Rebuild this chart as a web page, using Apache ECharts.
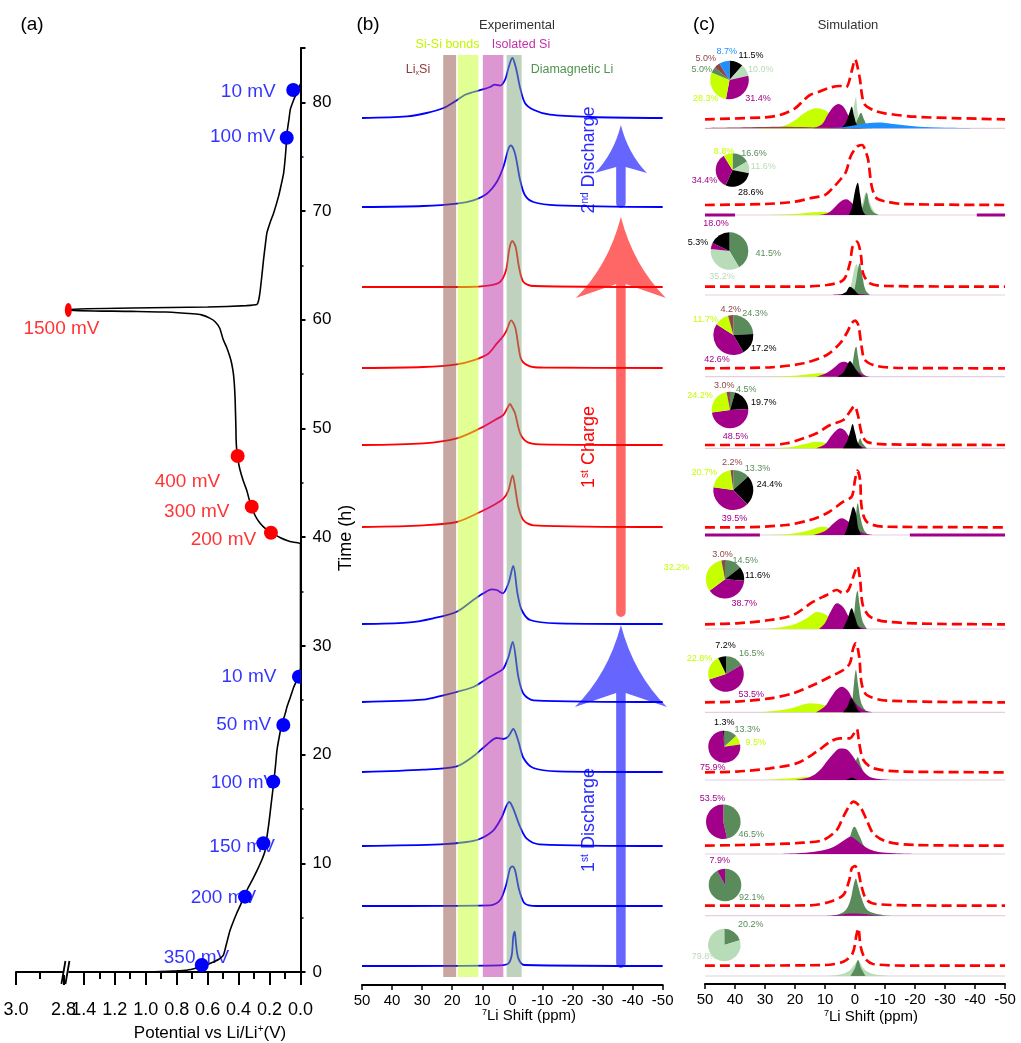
<!DOCTYPE html>
<html>
<head>
<meta charset="utf-8">
<title>Operando 7Li NMR of a Si anode</title>
<script src="https://cdn.jsdelivr.net/npm/echarts@6.0.0/dist/echarts.min.js"></script>
<style>
html, body { margin: 0; padding: 0; background: #ffffff; }
#chart { width: 1021px; height: 1043px; }
</style>
</head>
<body>
<div id="chart"></div>
<script>
// ---------- (a) galvanostatic profile: [potential (V), time (h)] ----------
const firstDischarge = [
  [2.8, 0.0], [1.4, 0.0], [1.0, 0.02], [0.91, 0.05], [0.80, 0.10], [0.74, 0.15], [0.69, 0.30],
  [0.65, 0.45], [0.60, 0.70], [0.567, 0.90], [0.53, 1.15], [0.50, 1.50], [0.485, 2.2],
  [0.478, 2.6], [0.456, 3.8], [0.435, 4.6], [0.412, 5.4], [0.38, 6.4], [0.347, 7.5],
  [0.31, 8.5], [0.282, 9.3], [0.25, 10.3], [0.228, 11.2], [0.217, 12.4], [0.205, 13.6],
  [0.195, 14.8], [0.185, 16.0], [0.174, 17.3], [0.162, 18.9], [0.152, 20.4], [0.135, 21.8],
  [0.119, 22.9], [0.10, 23.7], [0.087, 24.4], [0.065, 25.3], [0.044, 26.2], [0.025, 26.8],
  [0.011, 27.3], [0.0, 28.0]
];
const restAtCutoff = [[0.0, 39.4]];
const firstCharge = [
  [0.011, 39.47], [0.05, 39.55], [0.087, 39.7], [0.13, 39.95], [0.174, 40.3], [0.21, 40.6],
  [0.239, 40.95], [0.262, 41.3], [0.282, 41.7], [0.30, 42.2], [0.315, 42.8], [0.332, 43.5],
  [0.347, 44.3], [0.37, 45.2], [0.391, 46.2], [0.405, 47.2], [0.412, 48.0], [0.416, 49.0],
  [0.417, 49.9], [0.42, 51.5], [0.423, 52.9], [0.428, 54.2], [0.434, 55.1], [0.445, 56.0],
  [0.456, 56.6], [0.478, 57.5], [0.50, 58.2], [0.521, 59.2], [0.55, 59.8], [0.586, 60.15],
  [0.64, 60.45], [0.695, 60.55], [0.868, 60.71], [1.086, 60.77], [1.5, 60.86]
];
const secondDischarge = [
  [1.5, 60.98], [1.086, 61.08], [0.6, 61.17], [0.35, 61.3], [0.282, 61.4], [0.272, 61.7],
  [0.262, 62.5], [0.25, 64.0], [0.239, 65.5], [0.228, 66.8], [0.217, 68.0], [0.195, 69.0],
  [0.174, 69.8], [0.141, 71.4], [0.125, 72.4], [0.109, 73.5], [0.098, 75.0], [0.09, 76.5],
  [0.087, 77.2], [0.075, 78.4], [0.065, 79.4], [0.045, 80.2], [0.033, 80.6], [0.015, 81.2],
  [0.0, 81.7]
];
// NMR acquisition points: [potential (V), time (h), label]
const dischargeMarks = [[0.638, 0.64, '350 mV'], [0.3585, 6.93, '200 mV'], [0.240, 11.84, '150 mV'],
  [0.176, 17.51, '100 mV'], [0.111, 22.72, '50 mV'], [0.010, 27.17, '10 mV']];
const chargeMarks = [[0.191, 40.41, '200 mV'], [0.315, 42.81, '300 mV'], [0.406, 47.47, '400 mV'],
  [1.5, 60.9, '1500 mV']];
const secondDischargeMarks = [[0.089, 76.75, '100 mV'], [0.047, 81.14, '10 mV']];
const potentialTicks = [3.0, 2.8, 1.4, 1.2, 1.0, 0.8, 0.6, 0.4, 0.2, 0.0];
const potentialMinorTicks = [2.9, 1.3, 1.1, 0.9, 0.7, 0.5, 0.3, 0.1];

// ---------- (b) experimental 7Li spectra: [shift (ppm), intensity], top to bottom ----------
const expSpectra = [
  [[50,0],[35,0.16],[28.5,0.5],[22.9,1.0],[19.1,1.66],[15.7,2.33],[13,2.6],[10.2,2.83],[7.4,3.1],[5.8,3.33],[4.1,3.23],[2.4,3.83],[1.3,5.0],[0,6.0],[-1.2,5.0],[-2.6,3.0],[-4.2,1.5],[-7,0.83],[-12.5,0.33],[-25.8,0.1],[-50,0]],
  [[50,0],[29.6,0.1],[18.5,0.33],[13,0.67],[8.5,1.33],[5.2,2.5],[3,4.0],[1.3,5.83],[0.5,6.17],[-0.9,5.33],[-2.6,2.67],[-4.2,1.17],[-7,0.5],[-14.8,0.17],[-50,0]],
  [[50,0],[15,0],[7.4,0.17],[4.1,0.5],[2.1,1.67],[1,3.83],[0,4.6],[-1.1,4.0],[-2.2,2.0],[-3.7,0.5],[-7,0.1],[-50,0]],
  [[50,0],[29.6,0.1],[18.5,0.37],[13,0.77],[8,1.43],[5.2,2.43],[3,3.2],[1.9,3.77],[0.4,4.77],[-1,4.0],[-2,2.2],[-3.1,0.77],[-5.9,0.17],[-10,0.05],[-50,0]],
  [[50,0],[29.6,0.17],[18.5,0.67],[10.7,1.67],[5.8,2.5],[3,3.0],[1.7,3.67],[0.8,4.1],[-0.1,3.67],[-0.9,3.17],[-2.6,1.17],[-4.8,0.33],[-9,0.07],[-50,0]],
  [[50,0],[29.6,0.17],[18.5,0.5],[10.7,1.5],[6.3,2.17],[3,2.83],[1.3,3.67],[-0.1,5.17],[-0.9,4.0],[-2,2.0],[-3.7,0.67],[-7,0.17],[-50,0]],
  [[50,0],[35.1,0.13],[26.3,0.57],[18.5,1.23],[13,2.4],[9.6,3.07],[6.9,3.47],[5.2,3.4],[3.2,3.07],[1.3,4.07],[-0.3,5.8],[-1.7,3.07],[-3.1,1.4],[-5.9,0.4],[-15,0.07],[-50,0]],
  [[50,0],[29.6,0.23],[22.9,0.67],[18.5,1.0],[13,1.5],[8.5,2.33],[5.2,2.9],[3,3.33],[1.3,4.5],[-0.1,6.0],[-2,2.5],[-3.7,0.83],[-7,0.17],[-50,0]],
  [[50,0],[29.6,0.23],[18.5,0.57],[13,1.57],[8.5,2.73],[5.2,3.4],[3,3.3],[1.3,3.57],[-0.3,4.3],[-2,3.07],[-3.7,1.4],[-7,0.4],[-15,0.07],[-50,0]],
  [[50,0],[24,0.17],[15.2,0.4],[10.7,0.73],[6.3,1.57],[3.5,2.9],[1.9,4.07],[1,4.4],[-0.3,3.73],[-2.6,1.9],[-4.8,0.73],[-9,0.17],[-50,0]],
  [[50,0],[7.4,0.07],[4.1,0.57],[2.1,2.07],[0.8,3.73],[0,3.97],[-0.9,3.57],[-2.3,1.57],[-4.2,0.23],[-8,0],[-50,0]],
  [[50,0],[4,0.07],[1.3,0.27],[0.2,1.1],[-0.3,2.93],[-0.8,3.43],[-1.2,2.27],[-2,0.77],[-4,0.1],[-50,0]]
];
const expOffsets = [86.7, 77.8, 69.8, 61.7, 54.0, 45.8, 36.1, 28.3, 21.3, 13.9, 7.9, 1.9];
const expStage = ['discharge2', 'discharge2', 'charge', 'charge', 'charge', 'charge',
  'discharge1', 'discharge1', 'discharge1', 'discharge1', 'discharge1', 'discharge1'];
// assignment windows (ppm): LixSi, Si-Si bonds, isolated Si, diamagnetic Li
const bandSpans = [[23.0, 18.7], [18.2, 11.3], [9.8, 3.0], [1.9, -3.1]];
// arrows: [shift (ppm), tail offset, tip offset]
const arrowSpans = [[-36.1, 1.7, 36.0], [-36.1, 36.8, 76.8], [-36.1, 77.7, 86.0]];

// ---------- (c) simulated lineshapes: one entry per spectrum, null when absent ----------
const simTotal = [
  [[50,0],[30,0.2],[25,0.43],[20,1.1],[17,1.93],[15,2.43],[12,2.76],[8,3.2],[5,3.33],[3,3.2],[1,4.93],[0,6.0],[-1.5,4.26],[-3,1.6],[-6,0.93],[-10,0.6],[-20,0.26],[-35,0.1],[-50,0]],
  [[50,0],[30,0.1],[20,0.33],[15,0.67],[10,1.0],[7,1.83],[5,2.5],[3,3.33],[1.5,4.83],[0,5.6],[-1,5.9],[-2.4,6.0],[-3.5,5.4],[-4.4,4.5],[-5.6,1.83],[-7.2,0.67],[-10.6,0.33],[-16,0.1],[-50,0]],
  [[50,0],[20,0],[9.4,0.17],[3.9,0.67],[1.7,2.34],[0.8,4.0],[-0.6,4.5],[-1.9,3.34],[-2.7,1.34],[-5,0.33],[-10.6,0.07],[-50,0]],
  [[50,0],[28.3,0.1],[17.2,0.5],[9.4,1.33],[5,2.5],[2.8,3.5],[1.1,4.5],[0,4.76],[-1.1,4.33],[-2.2,2.16],[-3.3,0.83],[-7.2,0.23],[-16,0.03],[-50,0]],
  [[50,0],[28.3,0],[22.8,0.17],[17.2,0.67],[12.8,1.17],[8.3,2.0],[3.9,2.5],[1.7,3.33],[0.2,3.9],[-1.1,2.83],[-2.2,1.17],[-3.9,0.33],[-10,0.07],[-50,0]],
  [[50,0],[39.4,0],[22.8,0.23],[15,0.73],[9.4,1.4],[3.9,2.56],[1.1,3.06],[0,4.73],[-0.8,5.66],[-1.7,4.73],[-2.2,2.06],[-3.9,0.56],[-9.4,0.06],[-50,0]],
  [[50,0],[39.4,0.1],[28.3,0.43],[20.6,0.93],[13.9,2.26],[9.4,2.93],[6.1,3.43],[3.9,3.1],[2.2,3.43],[0,5.26],[-0.8,5.83],[-1.7,4.43],[-2.6,1.93],[-5,0.76],[-10.6,0.26],[-30,0.03],[-50,0]],
  [[50,0],[39.4,0.07],[28.3,0.4],[20.6,0.9],[13.9,1.73],[8.3,2.56],[3.9,3.23],[1.7,3.9],[0.6,5.4],[-0.3,5.9],[-1.4,4.56],[-2.2,1.9],[-3.9,0.73],[-10.6,0.17],[-50,0]],
  [[50,0],[39.4,0.07],[28.3,0.4],[19.4,0.9],[12.8,2.06],[8.3,3.06],[5,3.4],[1.7,3.4],[0.3,3.9],[-0.6,4.33],[-1.4,2.9],[-2.8,1.23],[-6.1,0.4],[-16,0.07],[-50,0]],
  [[50,0],[28.3,0.14],[17.2,0.3],[10.6,0.57],[6.1,1.57],[3.9,2.9],[1.7,4.07],[0.6,4.4],[-1.7,3.9],[-3.9,2.57],[-6.1,1.23],[-10.6,0.4],[-20,0.07],[-50,0]],
  [[50,0],[15,0.03],[8.3,0.4],[3.9,1.07],[1.9,2.57],[1.1,3.73],[0,3.97],[-1.1,3.4],[-2.2,1.9],[-3.9,0.57],[-7,0.17],[-20,0.03],[-50,0]],
  [[50,0],[10,0.07],[3.9,0.4],[0.8,1.24],[-0.6,3.24],[-1.1,3.74],[-1.9,1.9],[-3.3,0.74],[-6,0.17],[-20,0],[-50,0]]
];
const simLightGreen = [
  [[2,0],[1,0.6],[0.2,2.5],[-0.3,3.1],[-0.8,1.8],[-1.5,0.5],[-3,0]],
  [[-1,0],[-2.5,1.2],[-3.7,2.3],[-5,1.2],[-6.5,0.3],[-8,0]],
  [[3,0],[1.5,0.8],[0.3,2.5],[-0.5,3.1],[-1.5,2.0],[-3,0.5],[-5,0]],
  null, null, null, null, null, null, null, null,
  [[10,0],[5,0.15],[2,0.5],[0,1.2],[-1.1,1.5],[-3,0.7],[-6,0.2],[-12,0]]
];
const simDarkGreen = [
  [[1,0],[0,0.3],[-1,1.0],[-2,1.56],[-3,0.9],[-4,0.3],[-6,0]],
  [[-1.5,0],[-2.8,1.0],[-3.9,2.2],[-4.8,1.0],[-6,0.3],[-8,0]],
  [[1,0],[0,0.8],[-1,2.6],[-1.5,3.17],[-2.5,1.8],[-3.5,0.5],[-5,0]],
  [[2,0],[1,1.0],[0,2.8],[-0.4,3.0],[-1,2.0],[-2,0.6],[-3.5,0.1],[-5,0]],
  [[0,0],[-1,0.5],[-1.7,1.0],[-2.5,0.5],[-4,0]],
  [[1,0],[0,1.0],[-0.9,3.17],[-1.8,1.8],[-3,0.5],[-4.5,0]],
  [[1.5,0],[0.5,1.0],[-0.2,3.0],[-0.8,3.83],[-1.5,2.5],[-2.5,0.8],[-4,0]],
  [[2,0],[1,1.0],[0.3,3.0],[-0.3,4.23],[-1,2.8],[-2,1.0],[-3.5,0.2],[-5,0]],
  [[2,0],[1,0.6],[0,1.6],[-0.9,2.27],[-2,1.4],[-3.5,0.4],[-5,0]],
  [[6,0],[4,0.6],[2,1.5],[0.2,2.73],[-1.5,1.8],[-3,0.8],[-5,0.2],[-8,0]],
  [[8,0],[5,0.2],[3,0.6],[1.5,1.6],[0.5,3.0],[-0.3,3.73],[-1,3.0],[-2.5,1.5],[-4,0.6],[-7,0.2],[-12,0]],
  [[1.5,0],[0,0.8],[-1,1.6],[-2,0.8],[-3.5,0]]
];
const simYellow = [
  [[35,0],[28,0.05],[24,0.2],[20,0.8],[17,1.5],[14,1.95],[12.5,2.0],[10,1.8],[7,1.1],[4,0.4],[1,0.1],[-3,0]],
  [[30,0],[20,0.1],[12,0.3],[7,0.3],[3,0.1],[0,0]],
  null,
  [[30,0],[20,0.1],[14,0.3],[10,0.34],[6,0.2],[2,0.05],[0,0]],
  [[28,0],[22,0.1],[17,0.4],[13,0.66],[9,0.5],[5,0.2],[2,0.05],[0,0]],
  [[30,0],[22,0.1],[16,0.4],[11,0.83],[7,0.6],[4,0.25],[1,0.05],[0,0]],
  [[30,0],[25,0.15],[20,0.5],[16,1.1],[12.5,1.73],[9,1.3],[6,0.6],[3,0.2],[0,0]],
  [[32,0],[25,0.2],[20,0.5],[15,0.9],[10,0.7],[6,0.3],[2,0.07],[0,0]],
  [[30,0],[22,0.15],[15,0.33],[9,0.25],[4,0.1],[0,0]],
  null, null, null
];
const simMagenta = [
  [[14,0],[11,0.4],[9,1.4],[7,2.2],[5.5,2.43],[4,2.2],[2,1.2],[0,0.4],[-2,0.1],[-4,0]],
  [[12,0],[9,0.2],[7,0.7],[5,1.3],[3,1.57],[1,1.2],[-1,0.5],[-3,0.1],[-5,0]],
  [[8,0],[4,0.1],[1,0.15],[-2,0.1],[-5,0]],
  [[13,0],[10,0.3],[7,0.9],[5,1.4],[3.5,1.5],[2,1.3],[0,0.8],[-2,0.3],[-4,0.05],[-6,0]],
  [[13,0],[10,0.4],[8,1.2],[6,1.85],[5,2.0],[3.5,1.8],[2,1.2],[0,0.6],[-2,0.2],[-4,0]],
  [[14,0],[10,0.4],[7,1.2],[4.5,1.67],[2,1.3],[0,0.7],[-2,0.3],[-4,0.1],[-6,0]],
  [[12,0],[10,0.6],[8,1.8],[6,2.57],[4,2.2],[2,1.2],[0,0.5],[-2,0.15],[-4,0]],
  [[13,0],[10,0.6],[8,1.5],[6,2.3],[4.4,2.56],[2.5,2.2],[0.5,1.2],[-1.5,0.5],[-3.5,0.15],[-6,0]],
  [[20,0],[15,0.3],[12,0.9],[9,2.0],[7,2.7],[5,3.15],[3,3.1],[1,2.5],[-1,1.6],[-3,0.8],[-5,0.3],[-8,0.1],[-12,0]],
  [[25,0],[18,0.1],[12,0.3],[8,0.6],[5,1.1],[2.5,1.6],[1.5,1.73],[0,1.5],[-2.5,0.9],[-5,0.45],[-8,0.2],[-13,0.07],[-20,0]],
  [[10,0],[5,0.1],[2,0.23],[-2,0.2],[-6,0.07],[-10,0]],
  null
];
const simBlack = [
  [[4.5,0],[3,0.6],[1.8,1.6],[1.1,2.16],[0.3,1.2],[-0.7,0.3],[-2,0]],
  [[2,0],[1,0.8],[0,2.4],[-0.9,3.23],[-1.7,2.0],[-2.5,0.5],[-3.5,0]],
  [[5,0],[3,0.3],[1.7,0.83],[0.5,0.6],[-1,0.1],[-2,0]],
  [[6,0],[4,0.4],[2.5,1.2],[1.7,1.57],[0.5,1.1],[-1,0.4],[-2.5,0]],
  [[4,0],[2.5,0.8],[1.5,1.8],[0.8,2.43],[0,1.6],[-1,0.5],[-2.5,0]],
  [[3.5,0],[2.5,0.8],[1.3,2.2],[0.6,2.83],[-0.3,2.2],[-1,0.8],[-2,0]],
  [[4,0],[2.5,1.0],[1.1,2.07],[0,1.2],[-1,0.3],[-2,0]],
  [[4,0],[2.5,0.6],[1.3,1.4],[0,0.8],[-1,0.2],[-2,0]],
  [[3,0],[1.5,0.2],[1,0.25],[0,0.1],[-1,0]],
  null, null, null
];
const simBlue = [
  [[10,0],[4,0.1],[0,0.3],[-4,0.5],[-8,0.57],[-12,0.45],[-18,0.25],[-25,0.1],[-35,0.03],[-45,0]],
  null, null, null, null, null, null, null, null, null, null, null
];
const simBrown = [
  [[50,0.03],[35,0.1],[25,0.15],[15,0.1],[5,0.03],[0,0]],
  null, null, null, null, null, null, null, null, null, null, null
];
// residual isolated-Si baseline stretches (ppm ranges)
const simMagentaTails = [null, [[50, 40], [-40.6, -50]], null, null, null, [[50, 31.7], [-18.3, -50]],
  null, null, null, null, null, null];
const simTotalOffsets = [86.47, 77.9, 69.73, 61.57, 53.9, 45.67, 35.97, 28.17, 21.17, 13.83, 7.83, 1.83];
const simBaseOffsets = [85.57, 76.9, 68.9, 60.73, 53.57, 44.9, 35.5, 27.17, 20.4, 13.0, 6.83, 0.8];
// phase fractions (%) per spectrum, clockwise from 12 o'clock
const pieShares = [
  [['black', 11.5], ['lightGreen', 10.0], ['magenta', 31.4], ['yellow', 28.3], ['darkGreen', 5.0], ['brown', 5.0], ['blue', 8.7]],
  [['darkGreen', 16.6], ['lightGreen', 11.6], ['black', 28.6], ['magenta', 34.4], ['yellow', 8.8]],
  [['darkGreen', 41.5], ['lightGreen', 35.2], ['magenta', 5.3], ['black', 18.0]],
  [['darkGreen', 24.3], ['black', 17.2], ['magenta', 42.6], ['yellow', 11.7], ['brown', 4.2]],
  [['darkGreen', 4.5], ['black', 19.7], ['magenta', 48.5], ['yellow', 24.2], ['brown', 3.0]],
  [['darkGreen', 13.3], ['black', 24.4], ['magenta', 39.5], ['yellow', 20.7], ['brown', 2.2]],
  [['darkGreen', 14.5], ['black', 11.6], ['magenta', 38.7], ['yellow', 32.2], ['brown', 3.0]],
  [['darkGreen', 16.5], ['magenta', 53.5], ['yellow', 22.8], ['black', 7.2]],
  [['darkGreen', 13.3], ['yellow', 9.5], ['magenta', 75.9], ['black', 1.3]],
  [['darkGreen', 46.5], ['magenta', 53.5]],
  [['darkGreen', 92.1], ['magenta', 7.9]],
  [['darkGreen', 20.2], ['lightGreen', 79.8]]
];

// ---------- styling and layout ----------
const FONT = '"Liberation Sans", Arial, Helvetica, sans-serif';
const BLUE = '#0000ff', RED = '#ff0000';
const phaseColors = { darkGreen: '#5a8b5a', lightGreen: '#b8dbb8', black: '#000000', magenta: '#a3008a',
  yellow: '#c5ff00', blue: '#1e8fff', brown: '#8e4646' };
const phaseDrawOrder = ['lightGreen', 'darkGreen', 'yellow', 'magenta', 'black', 'blue', 'brown'];
const simByPhase = { lightGreen: simLightGreen, darkGreen: simDarkGreen, yellow: simYellow,
  magenta: simMagenta, black: simBlack, blue: simBlue, brown: simBrown };
const pieLabelSwap = { 2: { black: 'magenta', magenta: 'black' } };
const pieLayout = [[729.5, 80, 19.3], [732.5, 170, 16.8], [729.5, 251, 18.8], [733.3, 335, 20],
  [730, 410, 18.3], [733.3, 490, 20], [725, 579.3, 19.2], [726, 674, 17.8], [724.3, 746.7, 16],
  [723.3, 821.7, 17.3], [725, 885, 16.3], [724.3, 945, 16.2]];
// label anchor (px) for each slice, in pieShares order
const pieLabelAt = [
  [[751, 56], [760.8, 70], [758, 98.3], [705.8, 98.3], [701.7, 70], [705.8, 58.3], [726.7, 52]],
  [[754, 154], [763.3, 166.7], [750.8, 193], [704.5, 181], [724, 152]],
  [[768.3, 253.3], [722, 277], [698, 243], [716, 224]],
  [[755, 313.3], [763.8, 348.3], [717, 359.3], [705.5, 319.3], [730.8, 310]],
  [[746.3, 389.3], [763.8, 402.7], [735.5, 436.7], [700, 396], [724.2, 385.3]],
  [[757.5, 468.7], [769.5, 485], [734.5, 518.7], [704.2, 472.7], [732.2, 462.7]],
  [[745.2, 560.7], [757.5, 576], [744.2, 604], [676.5, 567.7], [722.5, 554.3]],
  [[751.7, 653.3], [751.3, 695], [699.5, 658.3], [725.5, 645.7]],
  [[747.3, 729.3], [755.8, 742.7], [712.8, 767.3], [724.2, 722.7]],
  [[751.3, 835], [712.5, 798.3]],
  [[751.7, 897.7], [719.7, 861]],
  [[750.8, 925], [704.5, 956.7]]
];
const stageColor = { discharge1: BLUE, discharge2: BLUE, charge: RED };
const bandFill = ['rgba(145,80,70,0.5)', 'rgba(195,255,40,0.5)', 'rgba(185,45,165,0.5)', 'rgba(125,165,125,0.5)'];
const bandExtent = [0.8, 93.0];
const arrowStyles = [
  { color: 'rgba(0,0,255,0.6)', head: 82, half: 46, notch: 14 },
  { color: 'rgba(255,0,0,0.6)', head: 81, half: 45, notch: 14 },
  { color: 'rgba(0,0,255,0.6)', head: 48, half: 26, notch: 6 }
];
const SHAFT = 9.5;
const dischargeNudge = [[28, -7], [11.7, 1], [12, 3], [3.4, 1], [-11.6, 0], [-22, 0]];
const chargeNudge = [[-14.3, 6.7], [-21.7, 5], [-17, 25.7], [31.7, 18.3]];
const secondNudge = [[-10.7, -1], [-17, 1.7]];

// broken potential axis: 0-1.5 V on its own scale, 2.8-3.0 V squeezed in beyond the break
function potentialToAxis(v) {
  return v < 2 ? v : 1.531 + (v - 2.8) * 1.535;
}
const majorU = potentialTicks.map(potentialToAxis);
const minorU = potentialMinorTicks.map(potentialToAxis);
const breakU = (potentialToAxis(1.5) + potentialToAxis(2.8)) / 2;

const series = [];

// ---- (a) ----
function markLabels(marks, nudges, color) {
  return {
    type: 'scatter', xAxisIndex: 0, yAxisIndex: 0, z: 1, silent: true,
    symbol: 'circle', symbolSize: 1, itemStyle: { color: 'rgba(0,0,0,0)' },
    data: marks.map((m, i) => ({ name: m[2], value: [potentialToAxis(m[0]), m[1]], label: { offset: nudges[i] } })),
    label: { show: true, position: 'left', distance: 0, formatter: '{b}', color: color, fontSize: 19, fontFamily: FONT }
  };
}
function markDots(marks, color) {
  return {
    type: 'custom', xAxisIndex: 0, yAxisIndex: 0, z: 4, clip: true, silent: true,
    data: marks.map(m => [potentialToAxis(m[0]), m[1]]),
    renderItem: function (params, api) {
      const p = api.coord([api.value(0), api.value(1)]);
      const squeezed = marks[params.dataIndex][0] >= 1.5;
      return { type: 'circle', x: p[0], y: p[1], scaleX: squeezed ? 0.5 : 1,
        shape: { cx: 0, cy: 0, r: 7 }, style: { fill: color } };
    }
  };
}
series.push(markLabels(dischargeMarks, dischargeNudge, BLUE));
series.push(markLabels(chargeMarks, chargeNudge, RED));
series.push(markLabels(secondDischargeMarks, secondNudge, BLUE));
series.push({
  type: 'line', xAxisIndex: 0, yAxisIndex: 0, z: 2, silent: true, symbol: 'none', smooth: 0.2,
  data: [].concat(firstDischarge, restAtCutoff, firstCharge, secondDischarge).map(p => [potentialToAxis(p[0]), p[1]]),
  lineStyle: { color: '#000', width: 1.6 }
});
series.push(markDots(dischargeMarks, BLUE));
series.push(markDots(chargeMarks, RED));
series.push(markDots(secondDischargeMarks, BLUE));
series.push({
  type: 'custom', xAxisIndex: 0, yAxisIndex: 0, z: 6, silent: true, clip: false,
  data: [[breakU, 0]],
  renderItem: function (params, api) {
    const p = api.coord([api.value(0), api.value(1)]);
    return { type: 'group', children: [
      { type: 'rect', shape: { x: p[0] - 2.5, y: p[1] - 3, width: 5, height: 6 }, style: { fill: '#fff' } },
      { type: 'line', shape: { x1: p[0] - 4.5, y1: p[1] + 12, x2: p[0] - 0.5, y2: p[1] - 11 }, style: { stroke: '#000', lineWidth: 1.8 } },
      { type: 'line', shape: { x1: p[0] - 0.5, y1: p[1] + 12, x2: p[0] + 3.5, y2: p[1] - 11 }, style: { stroke: '#000', lineWidth: 1.8 } }
    ] };
  }
});

// ---- (b) ----
expSpectra.forEach(function (spec, i) {
  series.push({
    type: 'line', xAxisIndex: 2, yAxisIndex: 1, z: 2, silent: true, symbol: 'none', smooth: 0.3,
    data: spec.map(p => [p[0], expOffsets[i] + p[1]]),
    lineStyle: { color: stageColor[expStage[i]], width: 1.8 }
  });
});
series.push({
  type: 'custom', xAxisIndex: 2, yAxisIndex: 1, z: 3, silent: true, clip: false,
  data: bandSpans.map(b => [b[0], b[1], bandExtent[1], bandExtent[0]]),
  encode: { x: [0, 1], y: [2, 3] },
  renderItem: function (params, api) {
    const a = api.coord([api.value(0), api.value(2)]);
    const b = api.coord([api.value(1), api.value(3)]);
    return { type: 'rect', shape: { x: a[0], y: a[1], width: b[0] - a[0], height: b[1] - a[1] },
      style: { fill: bandFill[params.dataIndex] } };
  }
});
series.push({
  type: 'custom', xAxisIndex: 2, yAxisIndex: 1, z: 4, silent: true, clip: false,
  data: arrowSpans,
  encode: { x: 0, y: [1, 2] },
  renderItem: function (params, api) {
    const st = arrowStyles[params.dataIndex];
    const tail = api.coord([api.value(0), api.value(1)]);
    const tip = api.coord([api.value(0), api.value(2)]);
    const cx = tip[0], yt = tip[1], yb = tail[1], w = SHAFT / 2;
    const hb = yt + st.head, join = hb - st.notch;
    const d = 'M' + cx + ',' + yt +
      ' Q' + (cx - st.half * 0.28) + ',' + (yt + st.head * 0.6) + ' ' + (cx - st.half) + ',' + hb +
      ' L' + (cx - w) + ',' + join + ' L' + (cx - w) + ',' + (yb - w) +
      ' A' + w + ',' + w + ' 0 0 0 ' + (cx + w) + ',' + (yb - w) +
      ' L' + (cx + w) + ',' + join + ' L' + (cx + st.half) + ',' + hb +
      ' Q' + (cx + st.half * 0.28) + ',' + (yt + st.head * 0.6) + ' ' + cx + ',' + yt + ' Z';
    return { type: 'path', shape: { pathData: d }, style: { fill: st.color } };
  }
});

// ---- (c) ----
simTotal.forEach(function (total, i) {
  const base = simBaseOffsets[i];
  series.push({
    type: 'line', xAxisIndex: 3, yAxisIndex: 2, z: 1, silent: true, symbol: 'none',
    data: [[50, base], [-50, base]], lineStyle: { color: 'rgba(200,170,200,0.55)', width: 1.2 }
  });
  (simMagentaTails[i] || []).forEach(function (seg) {
    series.push({
      type: 'line', xAxisIndex: 3, yAxisIndex: 2, z: 2, silent: true, symbol: 'none',
      data: [[seg[0], base], [seg[1], base]], lineStyle: { color: phaseColors.magenta, width: 3 }
    });
  });
  phaseDrawOrder.forEach(function (phase) {
    const comp = simByPhase[phase][i];
    if (!comp) return;
    series.push({
      type: 'line', xAxisIndex: 3, yAxisIndex: 2, z: 2, silent: true, symbol: 'none', smooth: 0.35,
      data: comp.map(p => [p[0], base + p[1]]),
      lineStyle: { width: 0 },
      areaStyle: { color: phaseColors[phase], opacity: 1, origin: base }
    });
  });
  const off = simTotalOffsets[i];
  series.push({
    type: 'line', xAxisIndex: 3, yAxisIndex: 2, z: 3, silent: true, symbol: 'none', smooth: 0.3,
    data: total.map(p => [p[0], off + p[1]]),
    lineStyle: { color: RED, width: 2.7, type: [10, 5] }
  });
});
pieShares.forEach(function (shares, i) {
  const lay = pieLayout[i];
  const swap = pieLabelSwap[i] || {};
  series.push({
    type: 'pie', center: [lay[0], lay[1]], radius: lay[2], startAngle: 90, clockwise: true,
    avoidLabelOverlap: false, silent: true, z: 5,
    itemStyle: { borderWidth: 0 },
    label: { show: true, position: 'outside', fontSize: 9, fontFamily: FONT,
      formatter: p => p.value.toFixed(1) + '%' },
    labelLine: { show: false, length: 3, length2: 3 },
    labelLayout: function (params) {
      const at = pieLabelAt[i][params.dataIndex];
      return { x: at[0], y: at[1], align: 'center', verticalAlign: 'middle' };
    },
    data: shares.map(s => ({
      name: s[0], value: s[1],
      itemStyle: { color: phaseColors[s[0]] },
      label: { color: phaseColors[swap[s[0]] || s[0]] }
    }))
  });
});

// ---------- axes ----------
function potentialLabel(val) {
  let best = potentialTicks[0], d = Infinity;
  potentialTicks.forEach(function (p) {
    const dd = Math.abs(potentialToAxis(p) - val);
    if (dd < d) { d = dd; best = p; }
  });
  return best.toFixed(1);
}
const shiftAxis = (grid) => ({
  gridIndex: grid, type: 'value', min: -50, max: 50, interval: 10, inverse: true, position: 'bottom',
  axisLine: { show: true, onZero: false, lineStyle: { color: '#000', width: 2 } },
  axisTick: { show: true, length: 5, lineStyle: { color: '#000', width: 1.5 } },
  axisLabel: { fontSize: 15, color: '#000', margin: 8, fontFamily: FONT },
  splitLine: { show: false }
});

const sup = { fontSize: 10, verticalAlign: 'top', fontFamily: FONT };
const centered = { align: 'center', verticalAlign: 'middle', textAlign: 'center', textVerticalAlign: 'middle' };
function label(x, y, text, font, fill, extra, rotation) {
  return { type: 'text', x: x, y: y, rotation: rotation || 0,
    style: Object.assign({ text: text, font: font + ' ' + FONT, fill: fill }, centered, extra || {}) };
}
const option = {
  animation: false,
  backgroundColor: '#ffffff',
  textStyle: { fontFamily: FONT },
  grid: [
    { left: 16, top: 48, width: 284.5, height: 924 },
    { left: 362, top: 45, width: 300.7, height: 940 },
    { left: 705, top: 45, width: 300, height: 939 }
  ],
  xAxis: [
    { gridIndex: 0, type: 'value', min: 0, max: 1.838, inverse: true, position: 'bottom',
      axisLine: { show: true, onZero: false, lineStyle: { color: '#000', width: 2 } },
      axisTick: { show: true, customValues: majorU, length: 13, lineStyle: { color: '#000', width: 2 } },
      axisLabel: { customValues: majorU, formatter: potentialLabel, fontSize: 18, color: '#000', margin: 29, fontFamily: FONT },
      splitLine: { show: false } },
    { gridIndex: 0, type: 'value', min: 0, max: 1.838, inverse: true, position: 'bottom',
      axisLine: { show: false },
      axisTick: { show: true, customValues: minorU, length: 7, lineStyle: { color: '#000', width: 2 } },
      axisLabel: { show: false }, splitLine: { show: false } },
    shiftAxis(1),
    shiftAxis(2)
  ],
  yAxis: [
    { gridIndex: 0, type: 'value', position: 'right', min: 0, max: 85, interval: 10,
      axisLine: { show: true, lineStyle: { color: '#000', width: 2 } },
      axisTick: { show: true, length: 5, lineStyle: { color: '#000', width: 2 } },
      minorTick: { show: true, splitNumber: 2, length: 3, lineStyle: { color: '#000', width: 1.5 } },
      axisLabel: { fontSize: 17, color: '#000', margin: 12, showMaxLabel: false, fontFamily: FONT },
      splitLine: { show: false } },
    { gridIndex: 1, type: 'value', min: 0, max: 94, show: false },
    { gridIndex: 2, type: 'value', min: 0, max: 93.9, show: false }
  ],
  graphic: [
    label(32, 25, '(a)', '19px', '#000'),
    label(368, 25, '(b)', '19px', '#000'),
    label(704, 25, '(c)', '19px', '#000'),
    label(517, 25, 'Experimental', '13px', '#333'),
    label(848, 25, 'Simulation', '13px', '#333'),
    label(447.5, 45, 'Si-Si bonds', '12.5px', '#c6f500'),
    label(521, 45, 'Isolated Si', '12.5px', '#c22fa6'),
    label(418, 70, 'Li{sub|x}Si', '12.5px', '#8b3a3a',
      { rich: { sub: { fontSize: 7, verticalAlign: 'bottom', fill: '#8b3a3a', fontFamily: FONT } } }),
    label(572, 70, 'Diamagnetic Li', '12.5px', '#4f944f'),
    label(210, 1033, 'Potential vs Li/Li{s|+}(V)', '17px', '#000',
      { rich: { s: { fontSize: 10, verticalAlign: 'top', fill: '#000', fontFamily: FONT } } }),
    label(529, 1016, '{s|7}Li Shift (ppm)', '15px', '#000',
      { rich: { s: { fontSize: 9, verticalAlign: 'top', fill: '#000', fontFamily: FONT } } }),
    label(871, 1017, '{s|7}Li Shift (ppm)', '15px', '#000',
      { rich: { s: { fontSize: 9, verticalAlign: 'top', fill: '#000', fontFamily: FONT } } }),
    label(346.5, 538, 'Time (h)', '18px', '#000', null, Math.PI / 2),
    label(589, 160, '2{s|nd} Discharge', '18px', '#2a2aff', { rich: { s: Object.assign({ fill: '#2a2aff' }, sup) } }, Math.PI / 2),
    label(589, 447, '1{s|st} Charge', '18px', RED, { rich: { s: Object.assign({ fill: RED }, sup) } }, Math.PI / 2),
    label(589, 820, '1{s|st} Discharge', '18px', '#2a2aff', { rich: { s: Object.assign({ fill: '#2a2aff' }, sup) } }, Math.PI / 2)
  ],
  series: series
};

const chart = echarts.init(document.getElementById('chart'), null, { renderer: 'canvas' });
chart.setOption(option);
</script>
</body>
</html>
